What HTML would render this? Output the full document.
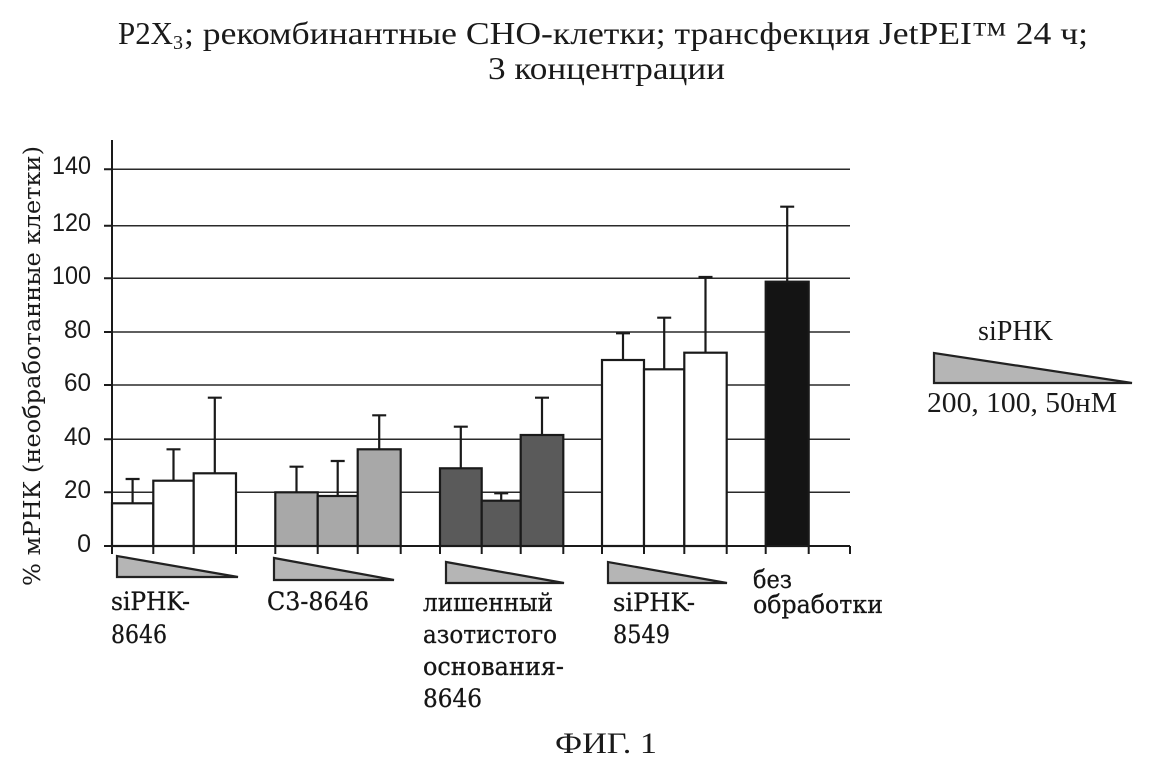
<!DOCTYPE html>
<html><head><meta charset="utf-8"><style>
html,body{margin:0;padding:0;background:#fff;}
svg{display:block;}
</style></head><body>
<svg width="1149" height="759" viewBox="0 0 1149 759" xmlns="http://www.w3.org/2000/svg">
<rect width="1149" height="759" fill="#fff"/>
<!-- Title -->
<g font-family="Liberation Serif, serif" fill="#1a1a1a">
<text x="118" y="44" font-size="32" textLength="55" lengthAdjust="spacingAndGlyphs">P2X</text>
<text x="173" y="49" font-size="20">3</text>
<text x="184" y="44" font-size="32" textLength="904" lengthAdjust="spacingAndGlyphs">; рекомбинантные CHO-клетки; трансфекция JetPEI™ 24 ч;</text>
<text x="488" y="79" font-size="32" textLength="237" lengthAdjust="spacingAndGlyphs">3 концентрации</text>
<text x="555" y="753" font-size="30" textLength="102" lengthAdjust="spacingAndGlyphs">ФИГ. 1</text>
</g>
<!-- Gridlines -->
<g stroke="#2a2a2a" stroke-width="1.5">
<line x1="104" y1="169.3" x2="850" y2="169.3"/>
<line x1="104" y1="225.7" x2="850" y2="225.7"/>
<line x1="104" y1="278.3" x2="850" y2="278.3"/>
<line x1="104" y1="332" x2="850" y2="332"/>
<line x1="104" y1="385" x2="850" y2="385"/>
<line x1="104" y1="439.3" x2="850" y2="439.3"/>
<line x1="104" y1="492.3" x2="850" y2="492.3"/>
</g>
<!-- Y tick labels -->
<g font-family="Liberation Sans, Arial, sans-serif" font-size="25" fill="#1a1a1a" text-anchor="end">
<text x="91" y="174" textLength="39" lengthAdjust="spacingAndGlyphs">140</text>
<text x="91" y="231" textLength="39" lengthAdjust="spacingAndGlyphs">120</text>
<text x="91" y="284" textLength="39" lengthAdjust="spacingAndGlyphs">100</text>
<text x="91" y="338" textLength="27" lengthAdjust="spacingAndGlyphs">80</text>
<text x="91" y="391" textLength="27" lengthAdjust="spacingAndGlyphs">60</text>
<text x="91" y="445" textLength="27" lengthAdjust="spacingAndGlyphs">40</text>
<text x="91" y="498" textLength="27" lengthAdjust="spacingAndGlyphs">20</text>
<text x="91" y="552">0</text>
</g>
<!-- Y axis title -->
<text transform="translate(40,366) rotate(-90)" x="0" y="0" text-anchor="middle" font-family="DejaVu Serif, serif" font-size="23" fill="#1a1a1a" textLength="440" lengthAdjust="spacingAndGlyphs">% мРНК (необработанные клетки)</text>
<!-- Bars -->
<g stroke="#1a1a1a" stroke-width="2.2">
<rect x="112" y="503.3" width="41.3" height="42.7" fill="#fff"/>
<rect x="153.3" y="480.7" width="40.4" height="65.3" fill="#fff"/>
<rect x="193.7" y="473.3" width="42.3" height="72.7" fill="#fff"/>
<rect x="275.3" y="492.3" width="42.4" height="53.7" fill="#a8a8a8"/>
<rect x="317.7" y="496" width="40" height="50" fill="#a8a8a8"/>
<rect x="357.7" y="449.3" width="43" height="96.7" fill="#a8a8a8"/>
<rect x="440" y="468.3" width="41.7" height="77.7" fill="#5a5a5a"/>
<rect x="481.7" y="500.7" width="39" height="45.3" fill="#5a5a5a"/>
<rect x="520.7" y="435" width="42.6" height="111" fill="#5a5a5a"/>
<rect x="602" y="360" width="42" height="186" fill="#fff"/>
<rect x="644" y="369.3" width="40.3" height="176.7" fill="#fff"/>
<rect x="684.3" y="352.7" width="42.4" height="193.3" fill="#fff"/>
<rect x="765.7" y="281.7" width="43" height="264.3" fill="#141414"/>
</g>
<!-- Error bars -->
<g stroke="#1a1a1a" stroke-width="2.2">
<path d="M132.6 503.3V479M125.6 479h14"/>
<path d="M173.5 480.7V449.3M166.5 449.3h14"/>
<path d="M214.8 473.3V397.7M207.8 397.7h14"/>
<path d="M296.5 492.3V466.7M289.5 466.7h14"/>
<path d="M337.7 496V461M330.7 461h14"/>
<path d="M379.2 449.3V415.3M372.2 415.3h14"/>
<path d="M460.8 468.3V426.7M453.8 426.7h14"/>
<path d="M501.2 500.7V493.3M494.2 493.3h14"/>
<path d="M542 435V397.7M535 397.7h14"/>
<path d="M623 360V333.3M616 333.3h14"/>
<path d="M664.2 369.3V317.7M657.2 317.7h14"/>
<path d="M705.5 352.7V277M698.5 277h14"/>
<path d="M787.2 281.7V206.7M780.2 206.7h14"/>
</g>
<!-- Axes -->
<g stroke="#1a1a1a" stroke-width="2" fill="none">
<line x1="112" y1="140" x2="112" y2="547"/>
<line x1="104" y1="546" x2="850" y2="546"/>
<path d="M104 169.3h8M104 225.7h8M104 278.3h8M104 332h8M104 385h8M104 439.3h8M104 492.3h8"/>
<path d="M112 546v8M153.3 546v8M193.7 546v8M236 546v8M275.3 546v8M317.7 546v8M357.7 546v8M400.7 546v8M440 546v8M481.7 546v8M520.7 546v8M563.3 546v8M602 546v8M644 546v8M684.3 546v8M726.7 546v8M765.7 546v8M808.7 546v8M850 546v8"/>
</g>
<!-- Triangles -->
<g fill="#b5b5b5" stroke="#222" stroke-width="2.2" stroke-linejoin="miter">
<polygon points="117,556 117,577 238,577"/>
<polygon points="274,558 274,580 394,580"/>
<polygon points="446,562 446,583 564,583"/>
<polygon points="608,562 608,583 727,583"/>
<polygon points="934,353 934,383 1132,383"/>
</g>
<!-- Category labels -->
<g font-family="DejaVu Serif, serif" font-size="25" fill="#151515" stroke="#151515" stroke-width="0.3">
<text x="111" y="610" textLength="79" lengthAdjust="spacingAndGlyphs">siPHK-</text>
<text x="111" y="643" textLength="56" lengthAdjust="spacingAndGlyphs">8646</text>
<text x="267" y="610" textLength="102" lengthAdjust="spacingAndGlyphs">C3-8646</text>
<text x="423" y="611" textLength="130" lengthAdjust="spacingAndGlyphs">лишенный</text>
<text x="423" y="643" textLength="134" lengthAdjust="spacingAndGlyphs">азотистого</text>
<text x="423" y="675" textLength="141" lengthAdjust="spacingAndGlyphs">основания-</text>
<text x="423" y="707" textLength="59" lengthAdjust="spacingAndGlyphs">8646</text>
<text x="613" y="611" textLength="82" lengthAdjust="spacingAndGlyphs">siPHK-</text>
<text x="613" y="643" textLength="57" lengthAdjust="spacingAndGlyphs">8549</text>
<text x="753" y="588" textLength="39" lengthAdjust="spacingAndGlyphs">без</text>
<text x="753" y="613" textLength="130" lengthAdjust="spacingAndGlyphs">обработки</text>
</g>
<!-- Legend text -->
<g font-family="Liberation Serif, serif" font-size="28" fill="#1a1a1a">
<text x="978" y="340" textLength="75" lengthAdjust="spacingAndGlyphs">siPHK</text>
<text x="927" y="412" textLength="190" lengthAdjust="spacingAndGlyphs">200, 100, 50нМ</text>
</g>
</svg>
</body></html>
